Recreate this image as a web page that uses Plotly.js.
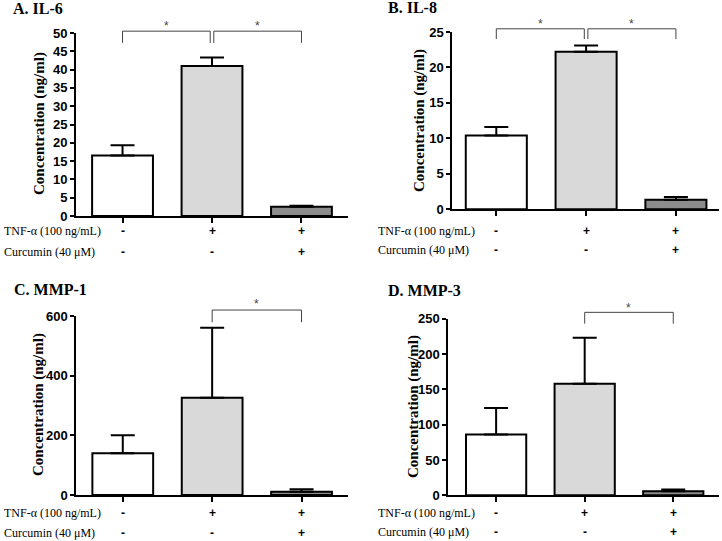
<!DOCTYPE html>
<html><head><meta charset="utf-8">
<script src="https://cdn.plot.ly/plotly-3.0.1.min.js"></script>
<style>html,body{margin:0;padding:0;background:#fff}#chart{width:722px;height:541px}</style>
</head><body><div id="chart"></div>
<script>
const W = 722, H = 541;

// ---- data ----
const groups = [0, 1, 2];              // Control, TNF-α, TNF-α + Curcumin
const tnfSigns = ['-', '+', '+'];
const curSigns = ['-', '-', '+'];
const rowLabels = ['TNF-α (100 ng/mL)', 'Curcumin (40 μM)'];
const panelTitles = ['A. IL-6', 'B. IL-8', 'C. MMP-1', 'D. MMP-3'];
const yTitle = 'Concentration (ng/ml)';

const il6Mean = [16.5, 41.0, 2.5];
const il6Err = [2.8, 2.3, 0.3];
const il8Mean = [10.4, 22.2, 1.35];
const il8Err = [1.2, 0.9, 0.4];
const mmp1Mean = [140, 326, 11];
const mmp1Err = [60, 235, 8];
const mmp3Mean = [86, 158, 5.7];
const mmp3Err = [37.5, 65, 2.5];

// significance brackets: [from group, to group, top level, end level]
const il6Sig = [[0, 0.98, 50.5, 47.3], [1.02, 2, 50.5, 47.3]];
const il8Sig = [[0, 0.98, 25.45, 24.0], [1.02, 2, 25.45, 24.0]];
const mmp1Sig = [[1, 2, 620, 579]];
const mmp3Sig = [[1, 2, 259, 243]];
const starLift = [1.3, 0.65, 19, 6.5];

const yMax = [50, 25, 600, 250];
const yStep = [5, 5, 200, 50];

const barColors = ['#ffffff', '#d9d9d9', '#8c8c8c'];

// ---- layout geometry (pixels) ----
const panels = [
  {mean: il6Mean, err: il6Err, sig: il6Sig, px: [76, 348], py: [33, 216], xr: [-0.52, 2.52],
   title: [11, 9], yt: [39, 124], rows: [231, 252], rowX: 2},
  {mean: il8Mean, err: il8Err, sig: il8Sig, px: [452.3, 719], py: [32, 209.3], xr: [-0.49, 2.48],
   title: [386, 8], yt: [420, 121], rows: [231, 250], rowX: 376},
  {mean: mmp1Mean, err: mmp1Err, sig: mmp1Sig, px: [76.3, 348], py: [316, 495], xr: [-0.52, 2.52],
   title: [12, 289], yt: [38, 405], rows: [513, 533], rowX: 2},
  {mean: mmp3Mean, err: mmp3Err, sig: mmp3Sig, px: [448.3, 719.3], py: [318.7, 495.3], xr: [-0.54, 2.52],
   title: [386, 290], yt: [413, 407], rows: [513, 532], rowX: 376}
];

const fx = p => p / W;
const fy = p => 1 - p / H;

const data = [];
const layout = {
  width: W, height: H,
  margin: {l: 0, r: 0, t: 0, b: 0},
  paper_bgcolor: '#fff', plot_bgcolor: '#fff',
  showlegend: false,
  annotations: [],
  shapes: [],
  font: {family: 'Liberation Sans', color: '#000'}
};

panels.forEach((p, i) => {
  const n = i === 0 ? '' : String(i + 1);
  const xa = 'x' + n, ya = 'y' + n;
  data.push({
    type: 'bar', x: groups, y: p.mean, xaxis: xa, yaxis: ya, width: 0.68,
    marker: {color: barColors, line: {color: '#000', width: 2}},
    error_y: {type: 'data', symmetric: false, array: p.err, arrayminus: [0, 0, 0],
              color: '#000', thickness: 2, width: 12},
    hoverinfo: 'skip', cliponaxis: false
  });
  const yd = ya + ' domain';
  p.sig.forEach(s => {
    const top = s[2] / yMax[i], end = s[3] / yMax[i];
    const ln = {type: 'line', xref: xa, yref: yd, layer: 'above', line: {color: '#444', width: 1}};
    layout.shapes.push(Object.assign({}, ln, {x0: s[0], x1: s[0], y0: end, y1: top}));
    layout.shapes.push(Object.assign({}, ln, {x0: s[0], x1: s[1], y0: top, y1: top}));
    layout.shapes.push(Object.assign({}, ln, {x0: s[1], x1: s[1], y0: top, y1: end}));
    layout.annotations.push({
      xref: xa, yref: yd, x: (s[0] + s[1]) / 2, y: (s[2] + starLift[i]) / yMax[i],
      xanchor: 'center', yanchor: 'middle', showarrow: false, text: '*',
      font: {family: 'Liberation Sans', size: 12, color: '#444'}
    });
  });
  layout['xaxis' + n] = {
    domain: [fx(p.px[0]), fx(p.px[1])], range: p.xr, anchor: ya,
    showline: true, linecolor: '#000', linewidth: 2,
    ticks: 'outside', tickvals: groups, ticklen: 5, tickwidth: 2, tickcolor: '#000',
    showticklabels: false, showgrid: false, zeroline: false, fixedrange: true
  };
  layout['yaxis' + n] = {
    domain: [fy(p.py[1]), fy(p.py[0])], range: [0, yMax[i]], anchor: xa,
    dtick: yStep[i], tick0: 0,
    showline: true, linecolor: '#000', linewidth: 2,
    ticks: 'outside', ticklen: 4, tickwidth: 2, tickcolor: '#000',
    tickfont: {family: 'Liberation Sans', size: 13, weight: 'bold', color: '#000'},
    showgrid: false, zeroline: false, fixedrange: true
  };
  // panel title
  layout.annotations.push({
    xref: 'paper', yref: 'paper', x: fx(p.title[0]), y: fy(p.title[1]),
    xanchor: 'left', yanchor: 'middle', showarrow: false, text: panelTitles[i],
    font: {family: 'Liberation Serif', size: 16, weight: 'bold', color: '#000'}
  });
  // y title
  layout.annotations.push({
    xref: 'paper', yref: 'paper', x: fx(p.yt[0]), y: fy(p.yt[1]),
    xanchor: 'center', yanchor: 'middle', showarrow: false, text: yTitle, textangle: -90,
    font: {family: 'Liberation Serif', size: 15, weight: 'bold', color: '#000'}
  });
  // treatment rows
  [tnfSigns, curSigns].forEach((signs, r) => {
    layout.annotations.push({
      xref: 'paper', yref: 'paper', x: fx(p.rowX), y: fy(p.rows[r]),
      xanchor: 'left', yanchor: 'middle', showarrow: false, text: rowLabels[r],
      font: {family: 'Liberation Serif', size: 12, color: '#000'}
    });
    signs.forEach((sgn, g) => {
      layout.annotations.push({
        xref: xa, yref: 'paper', x: groups[g], y: fy(p.rows[r]),
        xanchor: 'center', yanchor: 'middle', showarrow: false, text: sgn,
        font: {family: 'Liberation Sans', size: 12, weight: 'bold', color: '#000'}
      });
    });
  });
});

Plotly.newPlot('chart', data, layout, {displayModeBar: false, staticPlot: true});
</script>
</body></html>
